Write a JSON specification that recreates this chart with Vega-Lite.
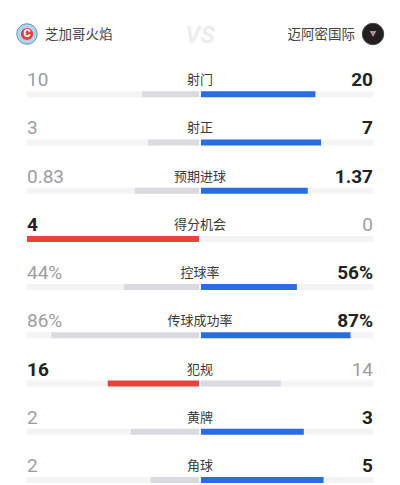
{
  "$schema": "https://vega.github.io/schema/vega-lite/v6.json",
  "width": 346,
  "height": 434,
  "padding": {"left": 27, "right": 27, "top": 32, "bottom": 19},
  "autosize": {"type": "none"},
  "background": "white",
  "config": {"view": {"stroke": null}},
  "datasets": {
    "stats": [
      {"stat": "射门", "home": 10, "away": 20, "base": 30, "homeLabel": "10", "awayLabel": "20"},
      {"stat": "射正", "home": 3, "away": 7, "base": 10, "homeLabel": "3", "awayLabel": "7"},
      {"stat": "预期进球", "home": 0.83, "away": 1.37, "base": 2.2, "homeLabel": "0.83", "awayLabel": "1.37"},
      {"stat": "得分机会", "home": 4, "away": 0, "base": 4, "homeLabel": "4", "awayLabel": "0"},
      {"stat": "控球率", "home": 44, "away": 56, "base": 100, "homeLabel": "44%", "awayLabel": "56%"},
      {"stat": "传球成功率", "home": 86, "away": 87, "base": 100, "homeLabel": "86%", "awayLabel": "87%"},
      {"stat": "犯规", "home": 16, "away": 14, "base": 30, "homeLabel": "16", "awayLabel": "14"},
      {"stat": "黄牌", "home": 2, "away": 3, "base": 5, "homeLabel": "2", "awayLabel": "3"},
      {"stat": "角球", "home": 2, "away": 5, "base": 7, "homeLabel": "2", "awayLabel": "5"}
    ],
    "teams": [
      {"stat": "header", "homeTeam": "芝加哥火焰", "awayTeam": "迈阿密国际", "vs": "VS"}
    ]
  },
  "layer": [
    {
      "data": {"name": "stats"},
      "transform": [
        {"calculate": "-datum.home / datum.base", "as": "hs"},
        {"calculate": "datum.away / datum.base", "as": "aws"},
        {"calculate": "-1", "as": "lo"},
        {"calculate": "1", "as": "hi"},
        {"calculate": "0", "as": "mid"}
      ],
      "encoding": {
        "y": {
          "field": "stat",
          "type": "nominal",
          "axis": null,
          "scale": {
            "type": "point",
            "padding": 0,
            "domain": ["header", "射门", "射正", "预期进球", "得分机会", "控球率", "传球成功率", "犯规", "黄牌", "角球"]
          }
        }
      },
      "layer": [
        {
          "mark": {"type": "rule", "yOffset": 14, "strokeWidth": 6, "color": "#f3f4f6", "strokeCap": "butt"},
          "encoding": {
            "x": {"field": "lo", "type": "quantitative", "scale": {"domain": [-1, 1]}, "axis": null},
            "x2": {"field": "hi"}
          }
        },
        {
          "mark": {"type": "rule", "yOffset": 14, "strokeWidth": 6, "strokeCap": "butt", "x2Offset": -1},
          "encoding": {
            "x": {"field": "hs", "type": "quantitative"},
            "x2": {"field": "mid"},
            "color": {"condition": {"test": "datum.home > datum.away", "value": "#e8443b"}, "value": "#d9dbe0"}
          }
        },
        {
          "transform": [{"filter": "datum.away > 0"}],
          "mark": {"type": "rule", "yOffset": 14, "strokeWidth": 6, "strokeCap": "butt", "xOffset": 1},
          "encoding": {
            "x": {"field": "mid", "type": "quantitative"},
            "x2": {"field": "aws"},
            "color": {"condition": {"test": "datum.away > datum.home", "value": "#2a6de0"}, "value": "#d9dbe0"}
          }
        },
        {
          "mark": {"type": "text", "font": "Noto Sans CJK SC", "fontSize": 13, "color": "#3a3a3a", "baseline": "middle", "align": "center"},
          "encoding": {
            "x": {"field": "mid", "type": "quantitative"},
            "text": {"field": "stat"}
          }
        },
        {
          "transform": [{"filter": "datum.home > datum.away"}],
          "mark": {"type": "text", "font": "Roboto", "fontSize": 19, "fontWeight": "bold", "color": "#222222", "baseline": "middle", "align": "left"},
          "encoding": {
            "x": {"field": "lo", "type": "quantitative"},
            "text": {"field": "homeLabel"}
          }
        },
        {
          "transform": [{"filter": "datum.home < datum.away"}],
          "mark": {"type": "text", "font": "Roboto", "fontSize": 19, "fontWeight": "normal", "color": "#9b9da4", "baseline": "middle", "align": "left"},
          "encoding": {
            "x": {"field": "lo", "type": "quantitative"},
            "text": {"field": "homeLabel"}
          }
        },
        {
          "transform": [{"filter": "datum.away > datum.home"}],
          "mark": {"type": "text", "font": "Roboto", "fontSize": 19, "fontWeight": "bold", "color": "#222222", "baseline": "middle", "align": "right"},
          "encoding": {
            "x": {"field": "hi", "type": "quantitative"},
            "text": {"field": "awayLabel"}
          }
        },
        {
          "transform": [{"filter": "datum.away < datum.home"}],
          "mark": {"type": "text", "font": "Roboto", "fontSize": 19, "fontWeight": "normal", "color": "#9b9da4", "baseline": "middle", "align": "right"},
          "encoding": {
            "x": {"field": "hi", "type": "quantitative"},
            "text": {"field": "awayLabel"}
          }
        }
      ]
    },
    {
      "data": {"name": "teams"},
      "transform": [
        {"calculate": "-1", "as": "lo"},
        {"calculate": "1", "as": "hi"},
        {"calculate": "0", "as": "mid"}
      ],
      "encoding": {
        "y": {"field": "stat", "type": "nominal"}
      },
      "layer": [
        {
          "mark": {"type": "text", "font": "Noto Sans CJK SC", "fontSize": 13.5, "color": "#444444", "baseline": "middle", "align": "left", "dx": 18, "dy": 3},
          "encoding": {
            "x": {"field": "lo", "type": "quantitative"},
            "text": {"field": "homeTeam"}
          }
        },
        {
          "mark": {"type": "text", "font": "Noto Sans CJK SC", "fontSize": 13.5, "color": "#444444", "baseline": "middle", "align": "right", "dx": -18, "dy": 3},
          "encoding": {
            "x": {"field": "hi", "type": "quantitative"},
            "text": {"field": "awayTeam"}
          }
        },
        {
          "mark": {"type": "text", "font": "Roboto", "fontSize": 24, "fontWeight": "bold", "fontStyle": "italic", "color": "#ededf0", "baseline": "middle", "align": "center", "dy": 4},
          "encoding": {
            "x": {"field": "mid", "type": "quantitative"},
            "text": {"field": "vs"}
          }
        },
        {
          "mark": {"type": "point", "shape": "circle", "filled": true, "size": 420, "color": "#aed6ee", "opacity": 1, "stroke": "#6f8fae", "strokeWidth": 1, "yOffset": 2},
          "encoding": {"x": {"field": "lo", "type": "quantitative"}}
        },
        {
          "mark": {"type": "point", "shape": "circle", "filled": true, "size": 150, "color": "#e0453d", "opacity": 1, "yOffset": 2},
          "encoding": {"x": {"field": "lo", "type": "quantitative"}}
        },
        {
          "mark": {"type": "text", "text": "C", "font": "Roboto", "fontWeight": "bold", "fontSize": 11, "color": "#ffffff", "baseline": "middle", "align": "center", "dy": 2},
          "encoding": {"x": {"field": "lo", "type": "quantitative"}}
        },
        {
          "mark": {"type": "point", "shape": "circle", "filled": true, "size": 460, "color": "#231f20", "opacity": 1, "stroke": "#4a4546", "strokeWidth": 1, "yOffset": 2},
          "encoding": {"x": {"field": "hi", "type": "quantitative"}}
        },
        {
          "mark": {"type": "point", "shape": "triangle-down", "filled": true, "size": 45, "color": "#b58c94", "opacity": 1, "yOffset": 2},
          "encoding": {"x": {"field": "hi", "type": "quantitative"}}
        }
      ]
    }
  ]
}
